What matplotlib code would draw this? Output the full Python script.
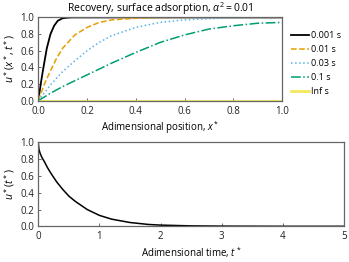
import matplotlib
matplotlib.use('Agg')
import matplotlib.pyplot as plt

plt.rcParams['font.family'] = ['Open Sans', 'DejaVu Sans']
plt.rcParams['mathtext.fontset'] = 'custom'
plt.rcParams['mathtext.rm'] = 'Open Sans'
plt.rcParams['mathtext.it'] = 'Open Sans:italic'

# profiles u*(x*, t*)
x_black = [0, 0.01, 0.02, 0.035, 0.05, 0.065, 0.08, 0.1, 0.12, 0.14, 1.0]
u_black = [0, 0.2, 0.38, 0.63, 0.8, 0.9, 0.96, 0.99, 0.997, 1.0, 1.0]

x_orange = [0, 0.025, 0.05, 0.075, 0.1, 0.15, 0.2, 0.25, 0.3, 0.4, 0.5, 1.0]
u_orange = [0, 0.2, 0.36, 0.51, 0.63, 0.79, 0.88, 0.94, 0.97, 0.99, 1.0, 1.0]

x_blue = [0, 0.05, 0.1, 0.15, 0.2, 0.25, 0.3, 0.4, 0.5, 0.6, 0.7, 0.8, 1.0]
u_blue = [0, 0.19, 0.35, 0.48, 0.6, 0.7, 0.78, 0.88, 0.94, 0.97, 0.985, 0.995, 1.0]

x_green = [0, 0.05, 0.1, 0.2, 0.3, 0.4, 0.5, 0.6, 0.7, 0.8, 0.9, 1.0]
u_green = [0, 0.09, 0.17, 0.31, 0.45, 0.58, 0.7, 0.79, 0.86, 0.9, 0.93, 0.94]

x_inf = [0, 1.0]
u_inf = [0, 0]

labels = ['0.001 s', '0.01 s', '0.03 s', '0.1 s', 'Inf s']

# surface value u*(t*)
t_surf = [0, 0.01, 0.03, 0.06, 0.1, 0.15, 0.2, 0.3, 0.4, 0.5, 0.6, 0.7, 0.8, 1.0,
          1.2, 1.5, 1.8, 2.0, 2.5, 3.0, 4.0, 5.0]
u_surf = [1.0, 0.92, 0.87, 0.82, 0.77, 0.7, 0.64, 0.53, 0.44, 0.36, 0.3, 0.25, 0.2, 0.13,
          0.085, 0.045, 0.022, 0.014, 0.005, 0.002, 0.0, 0.0]

fig = plt.figure(figsize=(3.49, 2.62), dpi=100)
ax1 = fig.add_axes([0.1097, 0.6156, 0.699, 0.318])
ax2 = fig.add_axes([0.1097, 0.1363, 0.876, 0.32])

ax1.plot(x_black, u_black, color='black', lw=1.3, label=labels[0])
ax1.plot(x_orange, u_orange, color='#E69F00', lw=1.1, ls='--', label=labels[1])
ax1.plot(x_blue, u_blue, color='#56B4E9', lw=1.1, ls=':', label=labels[2])
ax1.plot(x_green, u_green, color='#009E73', lw=1.1, ls='-.', label=labels[3])
ax1.plot(x_inf, u_inf, color='#F0E442', lw=2.0, alpha=0.85, label=labels[4])

ax1.set_xlim(0, 1)
ax1.set_ylim(0, 1)
ax1.set_xticks([0, 0.2, 0.4, 0.6, 0.8, 1.0])
ax1.set_yticks([0, 0.2, 0.4, 0.6, 0.8, 1.0])
ax1.set_xlabel(r'Adimensional position, $x^*$', fontsize=7, labelpad=2)
ax1.set_ylabel(r'$u^*(x^*, t^*)$', fontsize=7.5, labelpad=2)
ax1.set_title(r'Recovery, surface adsorption, $\alpha^2 = 0.01$', fontsize=7.5, pad=2)
ax1.legend(loc='upper left', bbox_to_anchor=(1.02, 0.88), frameon=False, fontsize=6.5,
           handlelength=2.0, handletextpad=0.3, labelspacing=0.55, borderaxespad=0)

ax2.plot(t_surf, u_surf, color='black', lw=1.1)
ax2.set_xlim(0, 5)
ax2.set_ylim(0, 1)
ax2.set_yticks([0, 0.2, 0.4, 0.6, 0.8, 1.0])
ax2.set_xlabel(r'Adimensional time, $t^*$', fontsize=7, labelpad=2)
ax2.set_ylabel(r'$u^*(t^*)$', fontsize=7.5, labelpad=2)

for ax in (ax1, ax2):
    ax.tick_params(direction='in', length=2, width=0.6, labelsize=7,
                   colors='#555555', labelcolor='#222222')
    ax.tick_params(axis='x', pad=3.5)
    ax.tick_params(axis='y', pad=3)
    for s in ax.spines.values():
        s.set_color('#666666')
        s.set_linewidth(0.9)

fig.savefig('out.png', dpi=100)
